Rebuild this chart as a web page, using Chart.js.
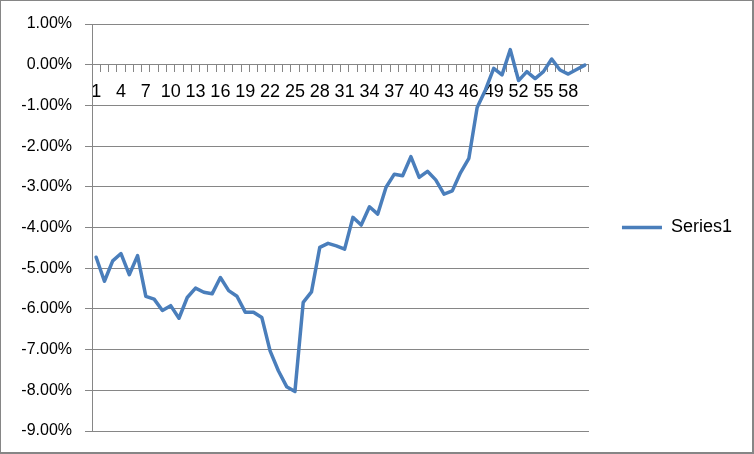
<!DOCTYPE html>
<html>
<head>
<meta charset="utf-8">
<script src="https://cdn.jsdelivr.net/npm/chart.js@4"></script>
<style>
    body { margin: 0; background: #fff; }
    canvas { display: block; }
</style>
</head>
<body>
<canvas id="chart" width="754" height="454"></canvas>
<script>
const categories = [
    1, 2, 3, 4, 5, 6, 7, 8, 9, 10,
    11, 12, 13, 14, 15, 16, 17, 18, 19, 20,
    21, 22, 23, 24, 25, 26, 27, 28, 29, 30,
    31, 32, 33, 34, 35, 36, 37, 38, 39, 40,
    41, 42, 43, 44, 45, 46, 47, 48, 49, 50,
    51, 52, 53, 54, 55, 56, 57, 58, 59, 60,
];

// percent values
const series1 = [
    -4.73, -5.32, -4.82, -4.64, -5.16, -4.69, -5.69, -5.76, -6.04, -5.92,
    -6.23, -5.72, -5.49, -5.59, -5.63, -5.23, -5.55, -5.69, -6.08, -6.08,
    -6.21, -7.03, -7.52, -7.91, -8.03, -5.84, -5.58, -4.49, -4.39, -4.45,
    -4.53, -3.75, -3.94, -3.49, -3.67, -3.01, -2.69, -2.73, -2.26, -2.77,
    -2.62, -2.83, -3.18, -3.10, -2.65, -2.30, -1.05, -0.62, -0.09, -0.25,
    0.37, -0.39, -0.17, -0.34, -0.17, 0.14, -0.13, -0.23, -0.12, -0.01,
];

const yMin = -9;
const yMax = 1;
const yStep = 1;
const labelEvery = 3;

const gridColor = "#868686";
const lineColor = "#4a7ebb";

// outer chart border, like the Excel chart area
const borderPlugin = {
    id: "outerBorder",
    afterDraw(chart) {
        const ctx = chart.ctx;
        ctx.save();
        ctx.fillStyle = gridColor;
        ctx.fillRect(0, 0, chart.width, 1);
        ctx.fillRect(0, 0, 1, chart.height);
        ctx.fillRect(chart.width - 2, 0, 2, chart.height);
        ctx.fillRect(0, chart.height - 2, chart.width, 2);
        ctx.restore();
    },
};

new Chart(document.getElementById("chart"), {
    type: "line",
    data: {
        labels: categories,
        datasets: [{
            label: "Series1",
            data: series1,
            borderColor: lineColor,
            backgroundColor: lineColor,
            borderWidth: 3.5,
            borderCapStyle: "round",
            borderJoinStyle: "round",
            pointRadius: 0,
            tension: 0,
        }],
    },
    options: {
        responsive: false,
        animation: false,
        devicePixelRatio: 1,
        layout: {
            padding: { left: 0, top: 24, right: 12, bottom: 23 },
        },
        plugins: {
            tooltip: { enabled: false },
            legend: {
                position: "right",
                labels: {
                    usePointStyle: true,
                    pointStyle: "line",
                    pointStyleWidth: 40,
                    boxWidth: 40,
                    padding: 33,
                    color: "#000",
                    font: { family: "'Liberation Sans', Arial, sans-serif", size: 18 },
                },
            },
        },
        scales: {
            x: {
                type: "category",
                position: { y: 0 },
                offset: true,
                grid: {
                    offset: true,
                    drawOnChartArea: false,
                    drawTicks: true,
                    tickLength: 7,
                    tickColor: gridColor,
                },
                border: { display: true, color: gridColor },
                ticks: {
                    autoSkip: false,
                    maxRotation: 0,
                    padding: 10,
                    color: "#000",
                    font: { family: "'Liberation Sans', Arial, sans-serif", size: 18 },
                    callback: (value, index) => (index % labelEvery === 0 ? categories[index] : ""),
                },
            },
            y: {
                min: yMin,
                max: yMax,
                afterFit: (scale) => { scale.width = 92; },
                grid: {
                    color: gridColor,
                    tickColor: gridColor,
                    tickLength: 7,
                },
                border: { display: true, color: gridColor },
                ticks: {
                    stepSize: yStep,
                    padding: 13,
                    color: "#000",
                    font: { family: "'Liberation Sans', Arial, sans-serif", size: 16 },
                    callback: (value) => value.toFixed(2) + "%",
                },
            },
        },
    },
    plugins: [borderPlugin],
});
</script>
</body>
</html>
